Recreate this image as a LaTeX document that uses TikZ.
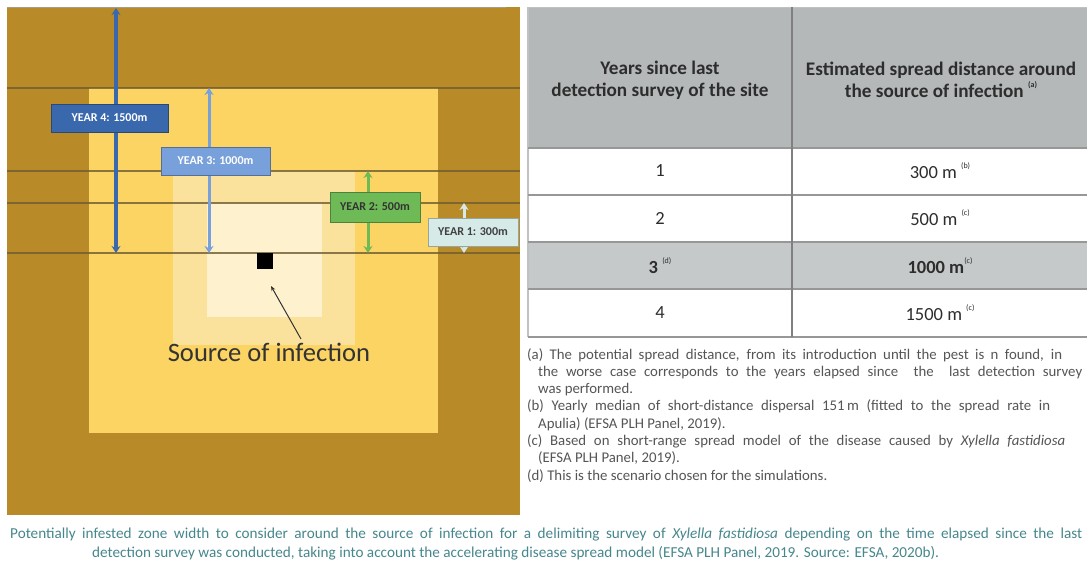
\documentclass[tikz,border=0pt]{standalone}
\usepackage{fontspec}
\setmainfont{Carlito}
\usetikzlibrary{arrows.meta,positioning}

\definecolor{outerzone}{RGB}{185,139,40}
\definecolor{zonethree}{RGB}{252,212,100}
\definecolor{zonetwo}{RGB}{251,226,156}
\definecolor{zoneone}{RGB}{253,241,206}
\definecolor{linebrown}{RGB}{110,92,50}
\definecolor{yearfour}{RGB}{58,104,172}
\definecolor{yearthree}{RGB}{120,160,218}
\definecolor{yeartwo}{RGB}{110,186,86}
\definecolor{yearone}{RGB}{214,234,232}
\definecolor{headgray}{RGB}{180,184,184}
\definecolor{rowgray}{RGB}{198,201,201}
\definecolor{gridgray}{RGB}{150,152,152}
\definecolor{tabtext}{RGB}{45,45,45}
\definecolor{notetext}{RGB}{85,85,85}
\definecolor{capteal}{RGB}{70,135,140}

\newcommand{\smark}[1]{\raisebox{0.55em}{\fontsize{8}{8}\selectfont(#1)}}

\begin{document}
\begin{tikzpicture}[x=1pt,y=-1pt,>={Stealth[length=7pt,width=9pt]},
    span/.style={<->,draw=#1,line width=3pt},
    yearbox/.style={fill=#1,draw=#1!70!black,line width=0.6pt,inner sep=0pt,
      font=\bfseries\fontsize{12}{13}\selectfont},
    headtext/.style={align=center,text=tabtext,font=\bfseries\fontsize{19.2}{22}\selectfont},
    celltext/.style={text=tabtext,font=\fontsize{18.5}{20}\selectfont},
    note/.style={anchor=north west,align=left,inner sep=0pt,text=notetext,
      font=\fontsize{14.8}{17.3}\selectfont},
    captext/.style={anchor=west,inner sep=0pt,text=capteal,font=\fontsize{15.2}{18}\selectfont}]

  \fill[white] (0,0) rectangle (1087,568);
  \useasboundingbox (0,0) rectangle (1087,568);

  \fill[outerzone] (7,7) rectangle (520,515);
  \draw[linebrown!60,line width=1pt] (7,7) -- (506,7);
  \fill[zonethree] (89,88) rectangle (438,433);
  \fill[zonetwo]   (173,171) rectangle (355,345);
  \fill[zoneone]   (207,203) rectangle (322,317);

  \foreach \yy in {88,171,203,253}
    \draw[draw=linebrown,line width=1.2pt,opacity=0.8] (7,\yy) -- (520,\yy);

  \node[fill=black,minimum size=16pt,inner sep=0pt] (src) at (264.5,260.5) {};

  \coordinate (y4top) at (116,8);   \coordinate (y4bot) at (116,253);
  \coordinate (y3top) at (209,88);  \coordinate (y3bot) at (209,253);
  \coordinate (y2top) at (368,171); \coordinate (y2bot) at (368,253);
  \coordinate (y1top) at (464,203); \coordinate (y1bot) at (464,253);

  \draw[span=yearfour,line width=4pt] (y4top) -- (y4bot);
  \draw[span=yearthree] (y3top) -- (y3bot);
  \draw[span=yeartwo]   (y2top) -- (y2bot);
  \draw[span=yearone]   (y1top) -- (y1bot);

  \node[yearbox=yearfour,text=white,minimum width=117pt,minimum height=28pt]
    (yr4) at (109.5,118) {YEAR 4: 1500m};
  \node[yearbox=yearthree,text=white,minimum width=109pt,minimum height=28pt]
    (yr3) at (215.5,161) {YEAR 3: 1000m};
  \node[yearbox=yeartwo,text=black!80,minimum width=90pt,minimum height=30pt]
    (yr2) at (375,207) {YEAR 2: 500m};
  \node[yearbox=yearone,text=black!75,minimum width=90pt,minimum height=28pt]
    (yr1) at (473,232) {YEAR 1: 300m};

  \node[text=black!80,font=\fontsize{26.6}{30}\selectfont] (srclbl) at (269,352) {Source of infection};
  \coordinate (ptrfoot) at (301,339);
  \coordinate (ptrtip) at (271,286);
  \draw[-{Stealth[length=5pt,width=4pt]},black!80,line width=1pt] (ptrfoot) -- (ptrtip);

  \fill[headgray] (528,7) rectangle (1087,148);
  \fill[white]    (528,148) rectangle (1087,337);
  \fill[rowgray]  (528,242) rectangle (1087,289);
  \draw[gridgray!60,line width=1pt] (528,7) -- (1087,7);
  \draw[gridgray!60,line width=1.5pt] (528,7) -- (528,337);
  \foreach \yy in {148,195,242,289,337}
    \draw[gridgray,line width=2pt] (528,\yy) -- (1087,\yy);
  \draw[black!50,line width=1.5pt] (792,7) -- (792,337);

  \node[headtext] (hyears) at (660,80) {Years since last\\detection survey of the site};
  \node[headtext] (hdist) at (941,80) {Estimated spread distance around\\the source of infection \smark{a}};

  \node[celltext] (yr1c) at (660,171) {1};
  \node[celltext] (dist1) at (940,171) {300 m \smark{b}};
  \node[celltext] (yr2c) at (660,218) {2};
  \node[celltext] (dist2) at (940,218) {500 m \smark{c}};
  \node[celltext] (yr3c) at (660,266) {\textbf{3} \smark{d}};
  \node[celltext] (dist3) at (940,266) {\textbf{1000 m}\smark{c}};
  \node[celltext] (yr4c) at (660,313) {4};
  \node[celltext] (dist4) at (940,313) {1500 m \smark{c}};

  \node[note] (notes) at (527,348) {\makebox[535pt][s]{(a) The potential spread distance, from its introduction until the pest is n found, in}\\
    \hspace*{11pt}\makebox[544pt][s]{the worse case corresponds to the years elapsed since~ the~ last detection survey}\\
    \hspace*{11pt}was performed.\\
    \makebox[523pt][s]{(b) Yearly median of short-distance dispersal 151\,m (fitted to the spread rate in}\\
    \hspace*{11pt}Apulia) (EFSA PLH Panel, 2019).\\
    \makebox[538pt][s]{(c) Based on short-range spread model of the disease caused by \textit{Xylella fastidiosa}}\\
    \hspace*{11pt}(EFSA PLH Panel, 2019).\\
    (d) This is the scenario chosen for the simulations.};

  \node[captext] (cap1) at (10,535) {\makebox[1072pt][s]{Potentially infested zone width to consider around the source of infection for a delimiting survey of \textit{Xylella fastidiosa} depending on the time elapsed since the last}};
  \node[captext] (cap2) at (92,553) {detection survey was conducted, taking into account the accelerating disease spread model (EFSA PLH Panel, 2019. Source: EFSA, 2020b).};
\end{tikzpicture}
\end{document}
